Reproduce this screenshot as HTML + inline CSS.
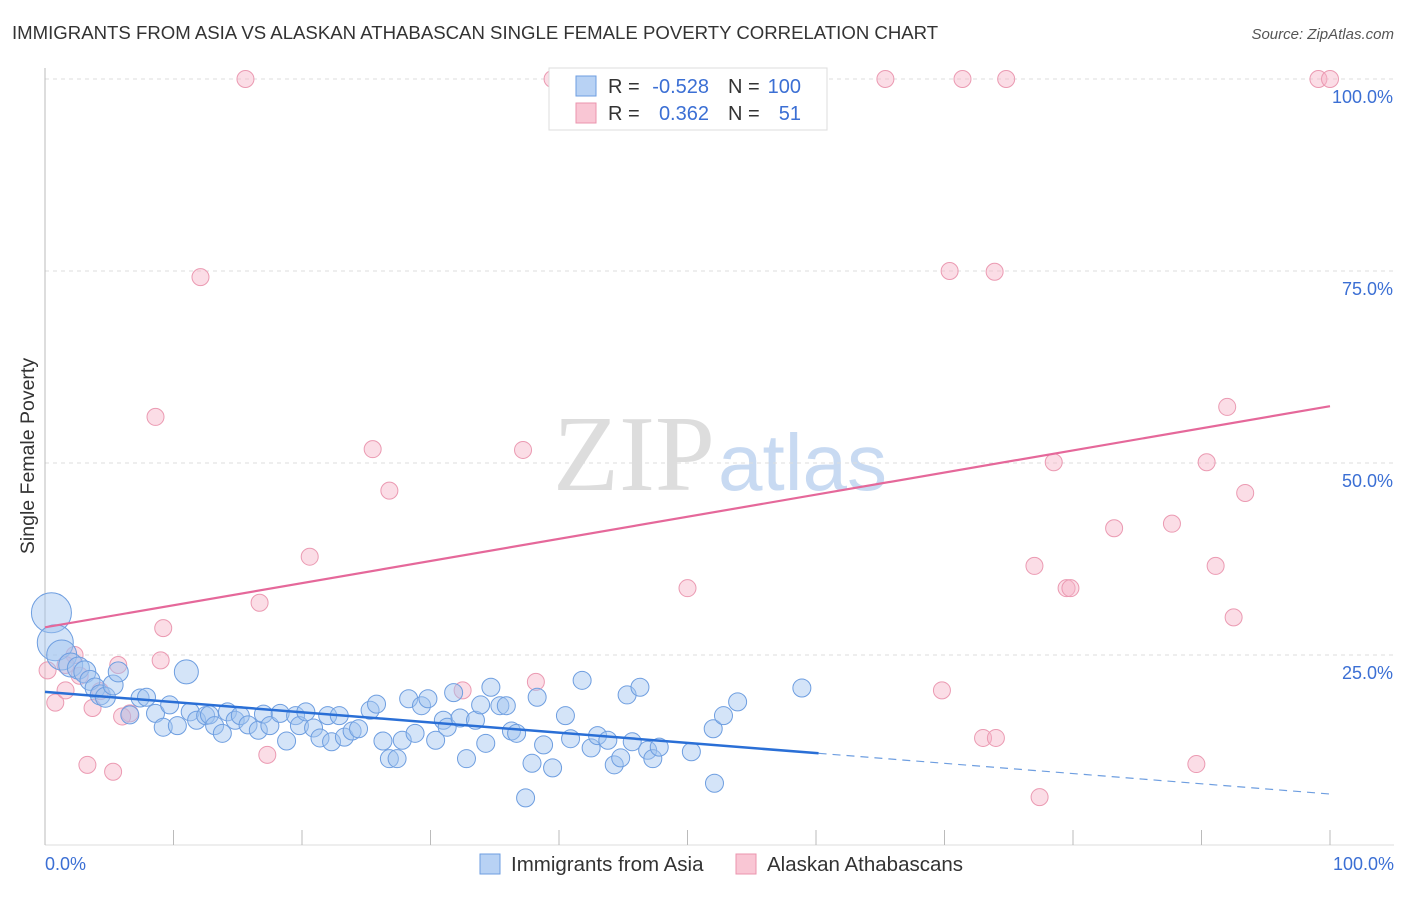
<!DOCTYPE html>
<html><head><meta charset="utf-8"><style>
body{margin:0;background:#fff;font-family:"Liberation Sans",sans-serif;}
svg text{font-family:"Liberation Sans",sans-serif;}
</style></head><body>
<svg id="chart" width="1406" height="892">
<text x="12" y="39" font-size="18.6" fill="#333">IMMIGRANTS FROM ASIA VS ALASKAN ATHABASCAN SINGLE FEMALE POVERTY CORRELATION CHART</text>
<text x="1394" y="39" font-size="15" fill="#555" font-style="italic" text-anchor="end">Source: ZipAtlas.com</text>
<text x="715" y="490" font-size="108" fill="#ddd" font-family="Liberation Serif" text-anchor="end" style="font-family:'Liberation Serif',serif">ZIP</text>
<text x="718" y="490" font-size="80" fill="#c8daf2">atlas</text>
<g id="grid"></g>
<g id="axes"></g>
<g id="pink"></g>
<g id="blue"></g>
<g id="lines"></g>
<text transform="translate(34,456) rotate(-90)" font-size="19.5" fill="#333" text-anchor="middle">Single Female Poverty</text>
<text x="45" y="870" font-size="18" fill="#3b6fd4">0.0%</text>
<text x="1394" y="870" font-size="18" fill="#3b6fd4" text-anchor="end">100.0%</text>
<g>
<rect x="549" y="68" width="278" height="62" fill="#fff" stroke="#ddd"/>
<rect x="576" y="76" width="20" height="20" fill="#b8d2f4" stroke="#6e9ee0"/>
<rect x="576" y="103" width="20" height="20" fill="#f9c6d4" stroke="#eb94ae"/>
<text x="608" y="93" font-size="20" fill="#333">R =</text>
<text x="709" y="93" font-size="20" fill="#3b6fd4" text-anchor="end">-0.528</text>
<text x="728" y="93" font-size="20" fill="#333">N =</text>
<text x="801" y="93" font-size="20" fill="#3b6fd4" text-anchor="end">100</text>
<text x="608" y="120" font-size="20" fill="#333">R =</text>
<text x="709" y="120" font-size="20" fill="#3b6fd4" text-anchor="end">0.362</text>
<text x="728" y="120" font-size="20" fill="#333">N =</text>
<text x="801" y="120" font-size="20" fill="#3b6fd4" text-anchor="end">51</text>
</g>
<g>
<rect x="480" y="854" width="20" height="20" fill="#b8d2f4" stroke="#6e9ee0"/>
<text x="511" y="871" font-size="20.5" fill="#333">Immigrants from Asia</text>
<rect x="736" y="854" width="20" height="20" fill="#f9c6d4" stroke="#eb94ae"/>
<text x="767" y="871" font-size="20.5" fill="#333">Alaskan Athabascans</text>
</g>
</svg>
<script>
const blueX=[0.5,0.8,1.3,2.0,2.6,3.1,3.5,3.9,4.3,4.7,5.3,5.7,6.6,7.4,7.9,8.6,9.2,9.7,10.3,11.0,11.3,11.8,12.5,12.8,13.2,13.8,14.2,14.8,15.2,15.8,16.6,17.0,17.5,18.3,18.8,19.5,19.8,20.3,20.9,21.4,22.0,22.3,22.9,23.3,23.9,24.4,25.3,25.8,26.3,26.8,27.4,27.8,28.3,28.8,29.3,29.8,30.4,31.0,31.3,31.8,32.3,32.8,33.5,33.9,34.3,34.7,35.4,35.9,36.3,36.7,37.4,37.9,38.3,38.8,39.5,40.5,40.9,41.8,42.5,43.0,43.8,44.3,44.8,45.3,45.7,46.3,46.9,47.3,47.8,50.3,52.0,52.1,52.8,53.9,58.9];
const blueY=[30.5,26.6,25.0,23.7,23.3,22.8,21.7,20.7,19.8,19.5,21.1,22.8,17.2,19.4,19.5,17.4,15.6,18.5,15.8,22.8,17.6,16.5,17.1,17.2,15.8,14.8,17.6,16.5,17.1,15.9,15.2,17.3,15.8,17.4,13.8,17.1,15.8,17.6,15.5,14.2,17.1,13.7,17.1,14.3,15.1,15.4,17.8,18.6,13.8,11.5,11.5,13.9,19.3,14.8,18.4,19.3,13.9,16.5,15.6,20.1,16.8,11.5,16.5,18.5,13.5,20.8,18.4,18.4,15.1,14.8,6.4,10.9,19.5,13.3,10.3,17.1,14.1,21.7,12.9,14.5,13.9,10.7,11.6,19.8,13.7,20.8,12.6,11.5,13.0,12.4,15.4,8.3,17.1,18.9,20.7];
const blueR=[20,18,15,12,11,11,10,10,10,10,10,10,9,9,9,9,9,9,9,12,9,9,9,9,9,9,9,9,9,9,9,9,9,9,9,9,9,9,9,9,9,9,9,9,9,9,9,9,9,9,9,9,9,9,9,9,9,9,9,9,9,9,9,9,9,9,9,9,9,9,9,9,9,9,9,9,9,9,9,9,9,9,9,9,9,9,9,9,9,9,9,9,9,9,9];
const pinkX=[15.6,39.5,65.4,71.4,74.8,99.1,100,12.1,70.4,73.9,8.6,25.5,37.2,26.8,20.6,16.7,9.2,9.0,92.0,78.5,90.4,93.4,83.2,87.7,77.0,91.1,79.5,79.8,50.0,92.5,69.8,73.0,74.0,77.4,89.6,32.5,38.2,17.3,6.6,3.3,5.3,0.8,3.7,1.6,2.3,5.7,4.3,0.2,1.6,2.7,6.0];
const pinkY=[100,100,100,100,100,100,100,74.2,75.0,74.9,56.0,51.8,51.7,46.4,37.8,31.8,28.5,24.3,57.3,50.1,50.1,46.1,41.5,42.1,36.6,36.6,33.7,33.7,33.7,29.9,20.4,14.2,14.2,6.5,10.8,20.4,21.5,12.0,17.4,10.7,9.8,18.8,18.1,20.4,25.0,23.7,20.3,23.0,23.7,22.3,17.0];
const yTicks=[25,50,75,100];
const yTickLabels=["25.0%","50.0%","75.0%","100.0%"];
const xTicks=[0,10,20,30,40,50,60,70,80,90,100];
const blueLine=[20.2,12.2,6.9];
const blueSolidEnd=60.2;
const pinkLine=[28.6,57.4];

const X=v=>45+v*12.85, Y=v=>847-v*7.68;
const NS="http://www.w3.org/2000/svg";
function mk(parent,tag,attrs){const e=document.createElementNS(NS,tag);for(const k in attrs)e.setAttribute(k,attrs[k]);document.getElementById(parent).appendChild(e);return e;}
yTicks.forEach((t,i)=>{
 const l=mk('grid','line',{x1:45,x2:1394,y1:Y(t),y2:Y(t),stroke:'#ddd','stroke-dasharray':'4,4'});
 
 
 const tx=mk('grid','text',{x:1393,y:Y(t)+24,'font-size':18,fill:'#3b6fd4','text-anchor':'end'});
 tx.textContent=yTickLabels[i];
 
 
});
let a=mk('axes','line',{x1:45,x2:45,y1:68,y2:845,stroke:'#bbb'});


a=mk('axes','line',{x1:45,x2:1394,y1:845,y2:845,stroke:'#ddd'});


xTicks.forEach(t=>{const l=mk('axes','line',{x1:X(t),x2:X(t),y1:830,y2:845,stroke:'#bbb'});
 
 });
pinkX.forEach((x,i)=>{const c=mk('pink','circle',{cx:X(x),cy:Y(pinkY[i]),r:8.5,fill:'rgba(246,180,200,0.45)',stroke:'#eb9ab2','stroke-width':1});
 
 });
blueX.forEach((x,i)=>{const c=mk('blue','circle',{cx:X(x),cy:Y(blueY[i]),r:blueR[i]||9,fill:'rgba(160,195,240,0.45)',stroke:'#6e9ee0','stroke-width':1});
 
 });
let t=mk('lines','line',{x1:X(0),y1:Y(pinkLine[0]),x2:X(100),y2:Y(pinkLine[1]),stroke:'#e5689a','stroke-width':2.2});


t=mk('lines','line',{x1:X(0),y1:Y(blueLine[0]),x2:X(blueSolidEnd),y2:Y(blueLine[1]),stroke:'#2a6fd6','stroke-width':2.5});


t=mk('lines','line',{x1:X(blueSolidEnd),y1:Y(blueLine[1]),x2:X(100),y2:Y(blueLine[2]),stroke:'#6e9ee0','stroke-width':1.2,'stroke-dasharray':'8,6'});


</script>
</body></html>
